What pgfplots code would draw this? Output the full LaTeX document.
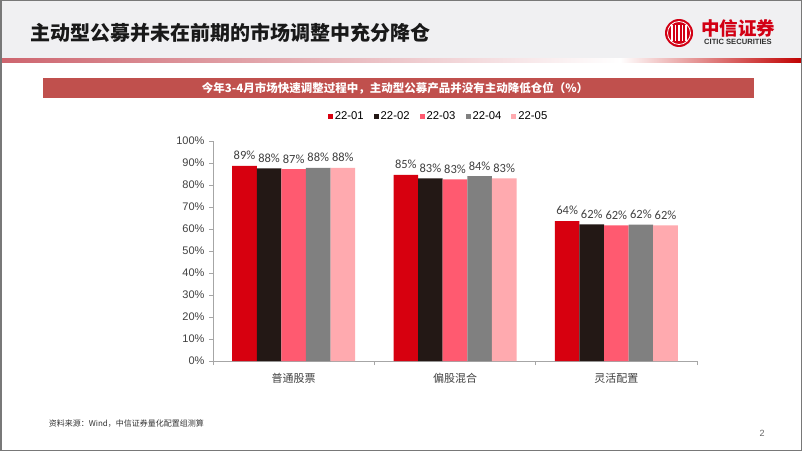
\documentclass[border=0pt]{standalone}
\usepackage{fontspec}
\usepackage{pgfplots}
\pgfplotsset{compat=1.18}
\setmainfont{Liberation Sans}
\newfontfamily\cjk{Noto Sans CJK SC}
\newfontfamily\carlito{Carlito}
\definecolor{c1}{RGB}{215,0,15}
\definecolor{c2}{RGB}{35,24,21}
\definecolor{c3}{RGB}{255,90,112}
\definecolor{c4}{RGB}{128,128,128}
\definecolor{c5}{RGB}{255,170,175}
\definecolor{hdrgray}{RGB}{240,240,242}
\definecolor{lred}{RGB}{205,100,110}
\definecolor{dred}{RGB}{192,0,0}
\definecolor{banner}{RGB}{192,80,77}
\definecolor{bordergray}{RGB}{120,120,120}
\definecolor{axgray}{RGB}{166,166,166}
\definecolor{txtgray}{RGB}{64,64,64}
\definecolor{logored}{RGB}{210,0,20}
\begin{document}
\begin{tikzpicture}[x=1pt,y=1pt]
\useasboundingbox (0,0) rectangle (802,451);
\fill[white] (0,0) rectangle (802,451);
% header
\fill[hdrgray] (0,393) rectangle (802,451);
\shade[left color=lred, right color=white] (0,389) rectangle (620,393);
\shade[left color=white, right color=dred] (620,389) rectangle (802,393);
\node[anchor=west, inner sep=0pt, font=\cjk\bfseries\fontsize{20}{24}\selectfont, text=black!90] at (30,418) {主动型公募并未在前期的市场调整中充分降仓};
% logo
\fill[logored] (679,418) circle (14);
\draw[white, line width=0.8] (679,418) circle (11.5);
\foreach \dx in {-7,-3.5,0,3.5,7} {\draw[white, line width=1.1] (679+\dx,410) -- (679+\dx,426);}
\node[inner sep=0pt, font=\cjk\bfseries\fontsize{18.5}{20}\selectfont, text=logored] at (738,423) {中信证券};
\node[inner sep=0pt, font=\bfseries\fontsize{7.6}{9}\selectfont, text=black!80] at (738,409) {CITIC SECURITIES};
% banner
\fill[banner] (42.7,353.3) rectangle (754,373);
\node[inner sep=0pt, text=white, font=\cjk\bfseries\fontsize{11.5}{14}\selectfont] at (395,363) {今年3-4月市场快速调整过程中，主动型公募产品并没有主动降低仓位（\%）};
% chart
\begin{axis}[
  at={(213pt,90pt)}, anchor=south west,
  scale only axis, width=484pt, height=220pt,
  ybar=0pt, bar width=24.6pt,
  xmin=-0.5, xmax=2.5, ymin=0, ymax=100,
  axis x line*=bottom, axis y line*=left,
  axis line style={axgray, line width=0.8pt},
  xtick={0,1,2},
  xticklabels={普通股票,偏股混合,灵活配置},
  major x tick style={draw=none},
  minor xtick={-0.5,0.5,1.5,2.5},
  minor x tick style={axgray, line width=0.8pt},
  minor tick length=4pt,
  ytick={0,10,...,100},
  y tick style={axgray, line width=0.8pt},
  major tick length=4pt,
  tick align=outside,
  /pgf/number format/assume math mode=true,
  yticklabel={\pgfmathprintnumber{\tick}\%},
  yticklabel style={font=\fontsize{11}{13}\selectfont, text=txtgray, xshift=-1pt},
  xticklabel style={font=\cjk\fontsize{11}{13}\selectfont, text=txtgray, yshift=-4.5pt},
  nodes near coords={\pgfmathprintnumber[fixed,precision=0]{\pgfplotspointmeta}\%},
  every node near coord/.append style={font=\carlito\fontsize{12.5}{14}\selectfont, text=txtgray, yshift=2.5pt},
  legend columns=-1,
  legend style={draw=none, fill=none, at={(0.466,1.113)}, anchor=center,
    font=\fontsize{11.3}{13}\selectfont, text=black,
    /tikz/every even column/.append style={column sep=8pt},
    nodes={inner xsep=2pt}},
  legend image code/.code={\fill[#1] (0pt,-2.5pt) rectangle (5pt,2.5pt);},
  clip=false,
]
\addplot[fill=c1, draw=none] coordinates {(0,88.7) (1,84.6) (2,63.6)};
\addplot[fill=c2, draw=none] coordinates {(0,87.6) (1,83.0) (2,62.1)};
\addplot[fill=c3, draw=none] coordinates {(0,87.2) (1,82.6) (2,61.7)};
\addplot[fill=c4, draw=none] coordinates {(0,87.8) (1,84.0) (2,62.0)};
\addplot[fill=c5, draw=none] coordinates {(0,87.8) (1,83.0) (2,61.6)};
\legend{22-01,22-02,22-03,22-04,22-05}
\end{axis}
% footer
\node[anchor=west, inner sep=0pt, font=\cjk\fontsize{8}{10}\selectfont, text=black!80] at (48.6,27) {资料来源：Wind，中信证券量化配置组测算};
\node[inner sep=0pt, font=\fontsize{9}{10}\selectfont, text=black!60] at (762,18) {2};
\draw[bordergray, line width=1.5] (0.75,0.75) rectangle (801.25,450.25);
\end{tikzpicture}
\end{document}
